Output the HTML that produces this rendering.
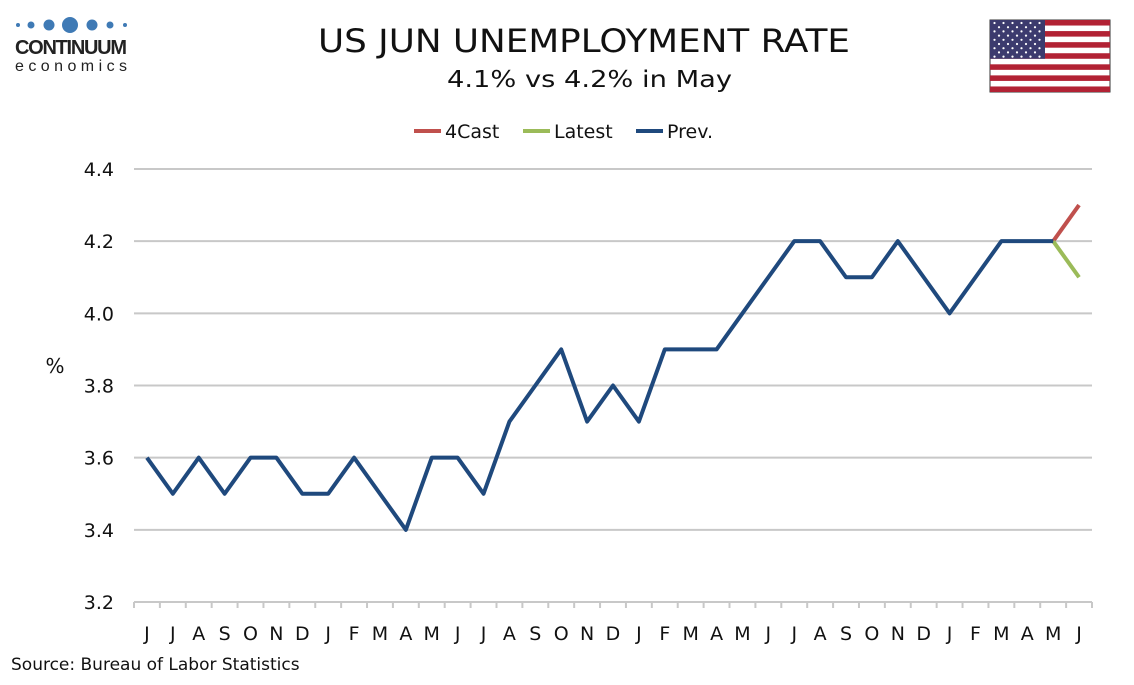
<!DOCTYPE html>
<html><head><meta charset="utf-8"><style>
body{margin:0;background:#fff;width:1134px;height:680px;overflow:hidden;font-family:"Liberation Sans",Verdana,sans-serif}
svg text{font-family:"DejaVu Sans","Liberation Sans",sans-serif}
</style></head><body>
<svg id="c" width="1134" height="680">
<g>
<circle cx="18" cy="25" r="2" fill="#3f7ab5"/><circle cx="31" cy="25" r="3.5" fill="#3f7ab5"/><circle cx="49" cy="25" r="5.5" fill="#3f7ab5"/>
<circle cx="70" cy="25" r="8" fill="#3f7ab5"/><circle cx="92" cy="25" r="5.5" fill="#3f7ab5"/><circle cx="110" cy="25" r="3.5" fill="#3f7ab5"/><circle cx="125" cy="25" r="2" fill="#3f7ab5"/>
<text x="15" y="54" font-size="20" font-weight="bold" fill="#222" textLength="112" style="font-family:'Liberation Sans'">CONTINUUM</text>
<text x="15" y="71" font-size="16" fill="#222" textLength="112" lengthAdjust="spacing" style="font-family:'Liberation Sans'">economics</text>
</g>
<text x="318" y="52" font-size="32" fill="#111" textLength="532" lengthAdjust="spacingAndGlyphs">US JUN UNEMPLOYMENT RATE</text>
<text x="447" y="87" font-size="23" fill="#111" textLength="285" lengthAdjust="spacingAndGlyphs">4.1% vs 4.2% in May</text>
<g id="flag"></g>
<g font-size="19" fill="#111">
<g><line x1="414" y1="131" x2="441" y2="131" stroke="#c0504d" stroke-width="4"/><text x="445" y="138">4Cast</text></g>
<g><line x1="523" y1="131" x2="550" y2="131" stroke="#9bbb59" stroke-width="4"/><text x="554" y="138">Latest</text></g>
<g><line x1="636" y1="131" x2="663" y2="131" stroke="#1f497d" stroke-width="4"/><text x="667" y="138">Prev.</text></g>
</g>
<text x="55" y="373" font-size="20" text-anchor="middle" fill="#111">%</text>
<text x="11" y="670" font-size="17" fill="#111">Source: Bureau of Labor Statistics</text>
<g id="plot"></g>
</svg>
<script>
const categories=["J","J","A","S","O","N","D","J","F","M","A","M","J","J","A","S","O","N","D","J","F","M","A","M","J","J","A","S","O","N","D","J","F","M","A","M","J"];
const prev=[3.6,3.5,3.6,3.5,3.6,3.6,3.5,3.5,3.6,3.5,3.4,3.6,3.6,3.5,3.7,3.8,3.9,3.7,3.8,3.7,3.9,3.9,3.9,4.0,4.1,4.2,4.2,4.1,4.1,4.2,4.1,4.0,4.1,4.2,4.2,4.2];
const forecast=[4.2,4.3];
const latest=[4.2,4.1];
const yTicks=[3.2,3.4,3.6,3.8,4.0,4.2,4.4];
const NS="http://www.w3.org/2000/svg";
const L=134,R=1092,yMin=3.2,yMax=4.4,T=169,B=602;
const step=(R-L)/categories.length;
const xs=i=>L+step*(i+0.5);
const ys=v=>B-(v-yMin)/(yMax-yMin)*(B-T);
const plot=document.getElementById('plot');
function mk(t,a,p){const e=document.createElementNS(NS,t);for(const k in a)e.setAttribute(k,a[k]);(p||plot).appendChild(e);return e;}
yTicks.forEach(v=>{
 if(v>yMin){const g=mk('line',{x1:L,x2:R,y1:ys(v),y2:ys(v),stroke:'#c8c8c8','stroke-width':2});
 
 }
 const t=mk('text',{x:114,y:ys(v)+7,'font-size':19,'text-anchor':'end',fill:'#111'});t.textContent=v.toFixed(1);
 
 
});
const ax=mk('line',{x1:L,x2:R,y1:B,y2:B,stroke:'#c8c8c8','stroke-width':2});


for(let i=0;i<=categories.length;i++){const tk=mk('line',{x1:L+step*i,x2:L+step*i,y1:B,y2:B+6,stroke:'#c8c8c8','stroke-width':2});
 
 }
categories.forEach((c,i)=>{const t=mk('text',{x:xs(i),y:640,'font-size':19,'text-anchor':'middle',fill:'#111'});t.textContent=c;
 
 });
function line(vals,off,col,name){const p=mk('polyline',{points:vals.map((v,i)=>xs(i+off)+','+ys(v)).join(' '),fill:'none',stroke:col,'stroke-width':4,'stroke-linejoin':'round'});
 
 }
line(forecast,prev.length-1,'#c0504d','series-4cast');
line(latest,prev.length-1,'#9bbb59','series-latest');
line(prev,0,'#1f497d','series-prev');
const f=document.getElementById('flag');const fx=990,fy=20,fw=120,fh=72;
mk('rect',{x:fx,y:fy,width:fw,height:fh,fill:'#fff',stroke:'#333','stroke-width':1},f);
for(let i=0;i<13;i+=2)mk('rect',{x:fx,y:fy+i*fh/13,width:fw,height:fh/13,fill:'#b22234'},f);
mk('rect',{x:fx,y:fy,width:55,height:fh*7/13,fill:'#3c3b6e'},f);
for(let r=0;r<9;r++){const n=r%2?5:6;for(let c=0;c<n;c++)mk('circle',{cx:fx+4.5+(r%2?4.5:0)+c*9,cy:fy+3+r*4.2,r:1.1,fill:'#fff'},f);}
</script>
</body></html>
